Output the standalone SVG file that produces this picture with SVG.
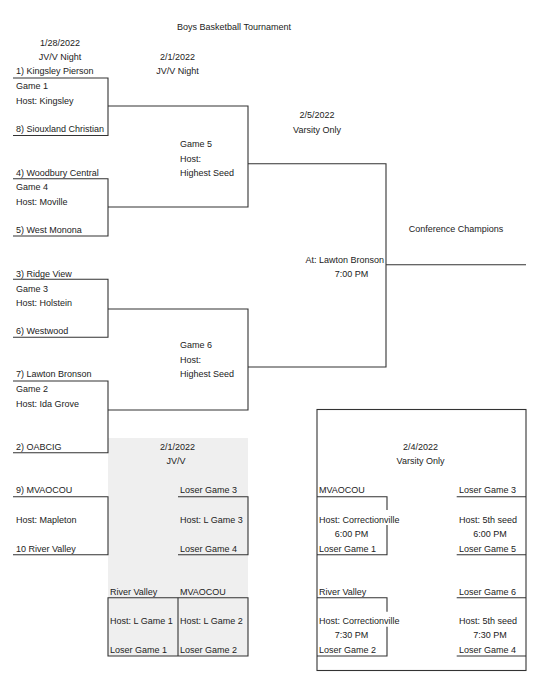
<svg xmlns="http://www.w3.org/2000/svg" width="546" height="698" viewBox="0 0 546 698">
<style>
text{font-family:"Liberation Sans",Arial,sans-serif;font-size:9px;fill:#222}
.c{text-anchor:middle}
.r{text-anchor:end}
.ln{stroke:#333;stroke-width:1.1;fill:none}
</style>
<rect x="0" y="0" width="546" height="698" fill="#fff"/>
<rect x="108" y="438" width="140" height="218" fill="#efefef"/>
<g id="headers">
<text x="234" y="30" class="c">Boys Basketball Tournament</text>
<text x="60" y="45.5" class="c">1/28/2022</text>
<text x="60" y="59.5" class="c">JV/V Night</text>
<text x="177.5" y="60" class="c">2/1/2022</text>
<text x="177.5" y="74" class="c">JV/V Night</text>
<text x="317" y="118.3" class="c">2/5/2022</text>
<text x="317" y="132.5" class="c">Varsity Only</text>
<text x="456" y="232" class="c">Conference Champions</text>
</g>
<g id="game1">
<text x="16" y="74">1) Kingsley Pierson</text>
<text x="16" y="89">Game 1</text>
<text x="16" y="103.5">Host: Kingsley</text>
<text x="16" y="132">8) Siouxland Christian</text>
</g>
<g id="game4">
<text x="16" y="175.5">4) Woodbury Central</text>
<text x="16" y="190">Game 4</text>
<text x="16" y="204.5">Host: Moville</text>
<text x="16" y="233.3">5) West Monona</text>
</g>
<g id="game5">
<text x="180" y="146.7">Game 5</text>
<text x="180" y="161.5">Host:</text>
<text x="180" y="176">Highest Seed</text>
</g>
<g id="final">
<text x="384" y="263" class="r">At: Lawton Bronson</text>
<text x="351.5" y="276.7" class="c">7:00 PM</text>
</g>
<g id="game3">
<text x="16" y="276.5">3) Ridge View</text>
<text x="16" y="291.5">Game 3</text>
<text x="16" y="305.5">Host: Holstein</text>
<text x="16" y="334">6) Westwood</text>
</g>
<g id="game6">
<text x="180" y="348.3">Game 6</text>
<text x="180" y="363">Host:</text>
<text x="180" y="377">Highest Seed</text>
</g>
<g id="game2">
<text x="16" y="377.3">7) Lawton Bronson</text>
<text x="16" y="392">Game 2</text>
<text x="16" y="406.5">Host: Ida Grove</text>
<text x="16" y="449.5">2) OABCIG</text>
</g>
<g id="jvv-header">
<text x="177.5" y="449.5" class="c">2/1/2022</text>
<text x="176" y="464" class="c">JV/V</text>
</g>
<g id="mapleton">
<text x="16" y="493.3">9) MVAOCOU</text>
<text x="16" y="522.5">Host: Mapleton</text>
<text x="16" y="551.5">10 River Valley</text>
</g>
<g id="lgame3">
<text x="180" y="493.3">Loser Game 3</text>
<text x="180" y="522.5">Host: L Game 3</text>
<text x="180" y="551.5">Loser Game 4</text>
</g>
<g id="lgame1">
<text x="110" y="594.5">River Valley</text>
<text x="110" y="624">Host: L Game 1</text>
<text x="110" y="653">Loser Game 1</text>
</g>
<g id="lgame2">
<text x="180" y="594.5">MVAOCOU</text>
<text x="180" y="624">Host: L Game 2</text>
<text x="180" y="653">Loser Game 2</text>
</g>
<g id="varsity-box">
<rect x="317" y="409.5" width="209" height="261" class="ln"/>
<text x="420.5" y="449.5" class="c">2/4/2022</text>
<text x="420.5" y="464" class="c">Varsity Only</text>
</g>
<g id="v-mvaocou">
<text x="319" y="493.3">MVAOCOU</text>
<text x="319" y="522.5">Host: Correctionville</text>
<text x="351.5" y="537" class="c">6:00 PM</text>
<text x="319" y="551.5">Loser Game 1</text>
</g>
<g id="v-loser3">
<text x="459" y="493.3">Loser Game 3</text>
<text x="459" y="522.5">Host: 5th seed</text>
<text x="490" y="537" class="c">6:00 PM</text>
<text x="459" y="551.5">Loser Game 5</text>
</g>
<g id="v-rivervalley">
<text x="319" y="594.5">River Valley</text>
<text x="319" y="624">Host: Correctionville</text>
<text x="351.5" y="637.5" class="c">7:30 PM</text>
<text x="319" y="653">Loser Game 2</text>
</g>
<g id="v-loser6">
<text x="459" y="594.5">Loser Game 6</text>
<text x="459" y="624">Host: 5th seed</text>
<text x="490" y="637.5" class="c">7:30 PM</text>
<text x="459" y="653">Loser Game 4</text>
</g>
<g id="connectors" class="ln">
<path d="M13 78H108V135.5H13"/>
<path d="M13 178.7H108V236H13"/>
<path d="M108 106H248V207H108"/>
<path d="M248 163.7H386V367H248"/>
<path d="M386 264.7H526"/>
<path d="M13 279.3H108V337.3H13"/>
<path d="M13 381H108V452.7H13"/>
<path d="M108 309H248V410H108"/>
<path d="M13 496.7H108V554.7H13"/>
<path d="M178 496.7H248V554.7H178"/>
<path d="M108 597.7H248V656H108Z"/>
<path d="M178 597.7V656"/>
<path d="M317 496.7H387V510M387 525V554.7H317"/>
<path d="M456.7 496.7H526M456.7 554.7H526"/>
<path d="M317 597.7H387V611.7M387 626.7V656H317"/>
<path d="M456.7 597.7H526M456.7 656H526"/>
</g>
</svg>
